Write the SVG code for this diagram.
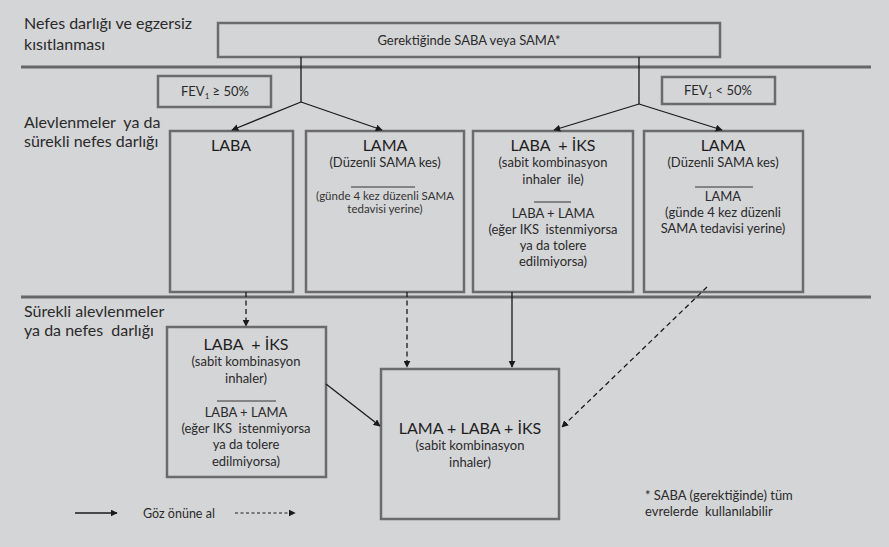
<svg xmlns="http://www.w3.org/2000/svg" width="889" height="547" viewBox="0 0 889 547">
<defs>
<marker id="ah" viewBox="0 0 10 10" refX="9" refY="5" markerWidth="7" markerHeight="7" markerUnits="userSpaceOnUse" orient="auto">
<path d="M0,0 L10,5 L0,10 z" fill="#1a1a1a"/>
</marker>
<style>
text{white-space:pre}
.bg{fill:#d4d5d7}
.box{fill:none;stroke:#6b6b6b;stroke-width:2.5}
.sep{stroke:#676767;stroke-width:3}
.c{stroke:#1a1a1a;stroke-width:1.3;fill:none}
.d{stroke-dasharray:5,3.5}
.lbl{font-family:Lato,"Liberation Sans",sans-serif;font-size:16px;fill:#2a2a2a}
.t1{font-family:Lato,"Liberation Sans",sans-serif;font-size:16px;fill:#1e1e1e;text-anchor:middle}
.t2{font-family:Lato,"Liberation Sans",sans-serif;font-size:13px;fill:#2a2a2a;text-anchor:middle}
.t3{font-family:Lato,"Liberation Sans",sans-serif;font-size:11.5px;fill:#333;text-anchor:middle}
.ul{stroke:#333;stroke-width:1}
</style>
</defs>
<rect class="bg" x="0" y="0" width="889" height="547"/>

<g id="labels">
<text class="lbl" x="24" y="29">Nefes darlığı ve egzersiz</text>
<text class="lbl" x="24" y="50">kısıtlanması</text>
<text class="lbl" x="24" y="128">Alevlenmeler  ya da</text>
<text class="lbl" x="24" y="147">sürekli nefes darlığı</text>
<text class="lbl" x="24" y="317">Sürekli alevlenmeler</text>
<text class="lbl" x="24" y="336">ya da nefes  darlığı</text>
</g>

<g id="separators">
<line class="sep" x1="21" y1="67" x2="871" y2="67"/>
<line class="sep" x1="21" y1="297" x2="871" y2="297"/>
</g>

<g id="top">
<rect class="box" x="218" y="23" width="502" height="34"/>
<text class="t2" x="469" y="45">Gerektiğinde SABA veya SAMA*</text>
</g>

<g id="fev-ge">
<rect class="box" x="158" y="76" width="113" height="31"/>
<text class="t2" x="215" y="96">FEV<tspan font-size="8" dy="3">1</tspan><tspan dy="-3"> ≥ 50%</tspan></text>
</g>

<g id="fev-lt">
<rect class="box" x="662" y="77" width="113" height="27"/>
<text class="t2" x="718" y="95">FEV<tspan font-size="8" dy="3">1</tspan><tspan dy="-3"> &lt; 50%</tspan></text>
</g>

<g id="laba">
<rect class="box" x="170" y="131" width="123" height="161"/>
<text class="t1" x="231" y="151">LABA</text>
</g>

<g id="lama1">
<rect class="box" x="306" y="131" width="158" height="161"/>
<text class="t1" x="385" y="151">LAMA</text>
<text class="t2" x="385" y="167">(Düzenli SAMA kes)</text>
<line class="ul" x1="351" y1="187" x2="415" y2="187"/>
<text class="t3" x="385" y="200">(günde 4 kez düzenli SAMA</text>
<text class="t3" x="385" y="213">tedavisi yerine)</text>
</g>

<g id="labaiks1">
<rect class="box" x="473" y="131" width="160" height="161"/>
<text class="t1" x="553" y="151">LABA  + İKS</text>
<text class="t2" x="553" y="167">(sabit kombinasyon</text>
<text class="t2" x="553" y="184">inhaler  ile)</text>
<line class="ul" x1="534" y1="202" x2="571" y2="202"/>
<text class="t2" x="553" y="218">LABA + LAMA</text>
<text class="t2" x="553" y="234">(eğer IKS  istenmiyorsa</text>
<text class="t2" x="553" y="250">ya da tolere</text>
<text class="t2" x="553" y="266">edilmiyorsa)</text>
</g>

<g id="lama2">
<rect class="box" x="644" y="131" width="159" height="161"/>
<text class="t1" x="723" y="151">LAMA</text>
<text class="t2" x="723" y="167">(Düzenli SAMA kes)</text>
<line class="ul" x1="695" y1="187" x2="753" y2="187"/>
<text class="t2" x="723" y="201">LAMA</text>
<text class="t2" x="723" y="217">(günde 4 kez düzenli</text>
<text class="t2" x="723" y="233">SAMA tedavisi yerine)</text>
</g>

<g id="labaiks2">
<rect class="box" x="167" y="327" width="159" height="150"/>
<text class="t1" x="246" y="350">LABA  + İKS</text>
<text class="t2" x="246" y="366">(sabit kombinasyon</text>
<text class="t2" x="246" y="383">inhaler)</text>
<line class="ul" x1="217" y1="401" x2="276" y2="401"/>
<text class="t2" x="246" y="417">LABA + LAMA</text>
<text class="t2" x="246" y="433">(eğer IKS  istenmiyorsa</text>
<text class="t2" x="246" y="449">ya da tolere</text>
<text class="t2" x="246" y="466">edilmiyorsa)</text>
</g>

<g id="triple">
<rect class="box" x="381" y="369" width="178" height="150"/>
<text class="t1" x="470" y="434">LAMA + LABA + İKS</text>
<text class="t2" x="470" y="450">(sabit kombinasyon</text>
<text class="t2" x="470" y="467">inhaler)</text>
</g>

<g id="footnote">
<text class="t2" x="645" y="500" style="text-anchor:start">* SABA (gerektiğinde) tüm</text>
<text class="t2" x="645" y="516" style="text-anchor:start">evrelerde  kullanılabilir</text>
</g>

<g id="legend">
<line class="c" x1="75" y1="513" x2="117" y2="513" marker-end="url(#ah)"/>
<text class="t2" x="143" y="518" style="text-anchor:start;font-size:12.5px">Göz önüne al</text>
<line class="c" x1="235" y1="513" x2="295" y2="513" stroke-dasharray="3,2.5" marker-end="url(#ah)" style="stroke-width:1"/>
</g>

<g id="connectors">
<polyline class="c" points="301,57 301,102"/>
<line class="c" x1="301" y1="102" x2="232" y2="130" marker-end="url(#ah)"/>
<line class="c" x1="301" y1="102" x2="382" y2="130" marker-end="url(#ah)"/>
<polyline class="c" points="639,57 639,104"/>
<line class="c" x1="639" y1="104" x2="554" y2="130" marker-end="url(#ah)"/>
<line class="c" x1="639" y1="104" x2="722" y2="130" marker-end="url(#ah)"/>
<line class="c d" x1="246" y1="292" x2="246" y2="326" marker-end="url(#ah)"/>
<line class="c d" x1="407" y1="292" x2="407" y2="367" marker-end="url(#ah)"/>
<line class="c" x1="512" y1="292" x2="512" y2="367" marker-end="url(#ah)"/>
<line class="c d" x1="707" y1="287" x2="562" y2="427" marker-end="url(#ah)"/>
<line class="c" x1="326" y1="384" x2="380" y2="426" marker-end="url(#ah)"/>
</g>
</svg>
